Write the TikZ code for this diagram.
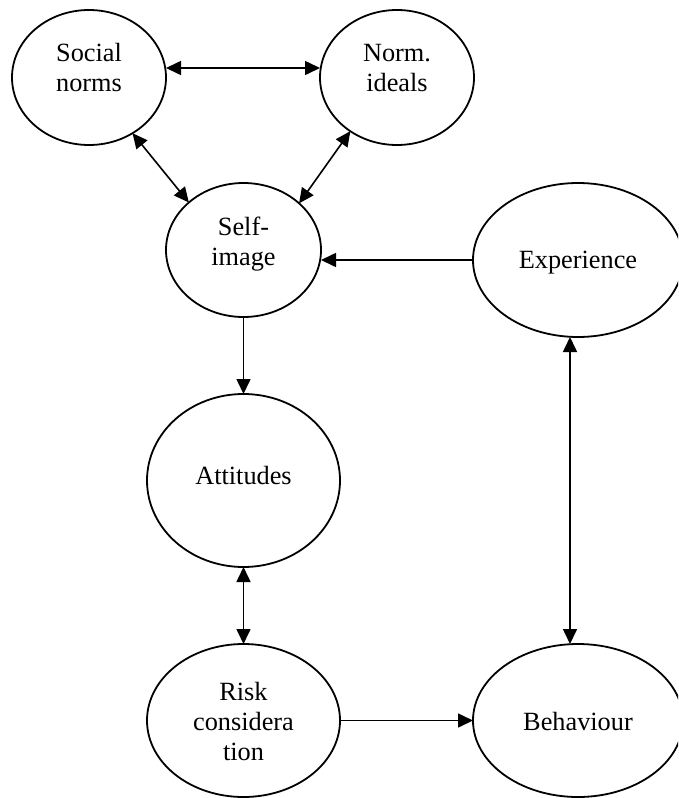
\documentclass[tikz,border=0pt]{standalone}
\usepackage{fontspec}
\setmainfont{Liberation Serif}
\usetikzlibrary{arrows.meta,shapes.geometric}
\begin{document}
\begin{tikzpicture}[x=1pt,y=-1pt,
  ell/.style={draw, ellipse, line width=1.8pt, inner sep=0pt, outer sep=0pt},
  lbl/.style={align=center, font=\fontsize{26.3}{30}\selectfont, inner sep=0pt},
  con/.style={line width=1.6pt, -{Triangle[length=15pt,width=14pt]}},
  dcon/.style={line width=1.6pt, {Triangle[length=15pt,width=14pt]}-{Triangle[length=15pt,width=14pt]}}]
\useasboundingbox (0,0) rectangle (678,798);
\clip (0,0) rectangle (678,798);
\node[ell, minimum width=154pt, minimum height=135pt] (sn) at (89,77.5) {};
\node[ell, minimum width=154pt, minimum height=135pt] (ni) at (397,77.5) {};
\node[ell, minimum width=155pt, minimum height=134pt] (si) at (243.5,250) {};
\node[ell, minimum width=210pt, minimum height=154pt] (ex) at (578,260) {};
\node[ell, minimum width=193pt, minimum height=173pt] (at) at (243.5,480.5) {};
\node[ell, minimum width=193pt, minimum height=153pt] (rc) at (243.5,720.5) {};
\node[ell, minimum width=210pt, minimum height=153pt] (bh) at (578,720.5) {};
\node[lbl] (snt) at (89,68) {Social\\norms};
\node[lbl] (nit) at (397,68) {Norm.\\ideals};
\node[lbl] (sit) at (243.5,244) {Self-\\image};
\node[lbl] (ext) at (578,262.7) {Experience};
\node[lbl] (att) at (243.5,475.4) {Attitudes};
\node[lbl] (rct) at (243.5,721) {Risk\\considera\\tion};
\node[lbl] (bht) at (578,721.7) {Behaviour};
\draw[dcon] ([yshift=9.5pt]sn.east) -- ([yshift=9.5pt]ni.west);
\draw[dcon] (sn.-52) -- (si.139);
\draw[dcon] (ni.-131) -- (si.40);
\draw[con] (ex.west) -- (si.east |- ex.west);
\draw[con] (si) -- (at);
\draw[dcon] (at) -- (rc);
\draw[con] (rc) -- (bh);
\draw[dcon] ([xshift=-8pt]ex.south) -- ([xshift=-8pt]bh.north);
\end{tikzpicture}
\end{document}
